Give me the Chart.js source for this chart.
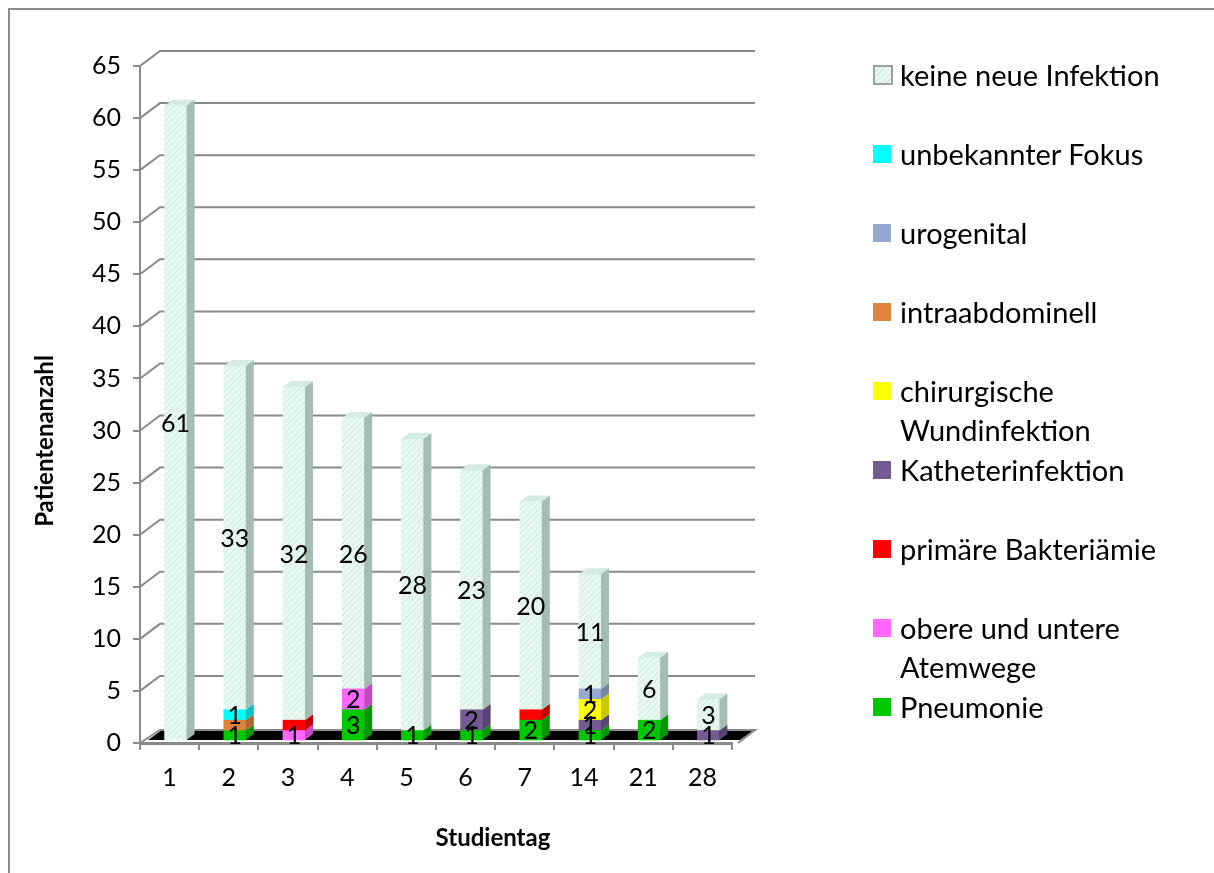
<!DOCTYPE html>
<html>
<head>
<meta charset="utf-8">
<script src="https://cdn.jsdelivr.net/npm/chart.js@4.4.1/dist/chart.umd.min.js"></script>
<style>
  html, body { margin: 0; padding: 0; background: #fff; }
  #wrap { position: relative; width: 1214px; height: 873px; overflow: hidden; font-family: Lato, "Open Sans", sans-serif; }
  #frame { position: absolute; left: 8px; top: 8px; width: 1300px; height: 900px; border: 2px solid #8c8c8c; box-sizing: border-box; }
  #chart { position: absolute; left: 0; top: 0; }
  .item { position: absolute; left: 873px; font-size: 29px; line-height: 39px; color: #000; white-space: pre; }
  .swatch { position: absolute; left: 0; top: 11px; width: 18px; height: 18px; box-sizing: border-box; }
  .label { position: absolute; left: 27px; top: 0; }
</style>
</head>
<body>
<div id="wrap">
  <div id="frame"></div>
  <canvas id="chart" width="1214" height="873"></canvas>
  <div id="legend"></div>
</div>
<script>
// Study days on the x axis
const studyDays = ['1', '2', '3', '4', '5', '6', '7', '14', '21', '28'];

// Patients per day, by focus of new infection (stacked bottom to top)
const pneumonie        = [0, 1, 0, 3, 1, 1, 2, 1, 2, 0];
const atemwege         = [0, 0, 1, 2, 0, 0, 0, 0, 0, 0];
const bakteriaemie     = [0, 0, 1, 0, 0, 0, 1, 0, 0, 0];
const katheter         = [0, 0, 0, 0, 0, 2, 0, 1, 0, 1];
const wundinfektion    = [0, 0, 0, 0, 0, 0, 0, 2, 0, 0];
const intraabdominell  = [0, 1, 0, 0, 0, 0, 0, 0, 0, 0];
const urogenital       = [0, 0, 0, 0, 0, 0, 0, 1, 0, 0];
const unbekannterFokus = [0, 1, 0, 0, 0, 0, 0, 0, 0, 0];
const keineInfektion   = [61, 33, 32, 26, 28, 23, 20, 11, 6, 3];

// Value axis
const yMin = 0, yMax = 65, yStep = 5;

const FONT = 'Lato, "Open Sans", sans-serif';
const canvas = document.getElementById('chart');
const ctx = canvas.getContext('2d');

// Fine diagonal hatching for the "no new infection" bars
function hatchPattern() {
  const c = document.createElement('canvas');
  c.width = 6; c.height = 6;
  const g = c.getContext('2d');
  g.fillStyle = '#e7f8f1';
  g.fillRect(0, 0, 6, 6);
  g.strokeStyle = '#cde9dc';
  g.lineWidth = 1;
  g.beginPath();
  g.moveTo(-1, 7); g.lineTo(7, -1);
  g.moveTo(5, 7); g.lineTo(7, 5);
  g.moveTo(-1, 1); g.lineTo(1, -1);
  g.stroke();
  return ctx.createPattern(c, 'repeat');
}

const series = [
  { label: 'Pneumonie',                   data: pneumonie,        front: '#00c800', side: '#009a00', top: '#33dd33', values: true },
  { label: 'obere und untere\nAtemwege',  data: atemwege,         front: '#ff66ff', side: '#c548c5', top: '#ff8cff', values: true },
  { label: 'primäre Bakteriämie',         data: bakteriaemie,     front: '#ff0000', side: '#c20000', top: '#ff3a3a', values: false },
  { label: 'Katheterinfektion',           data: katheter,         front: '#735a93', side: '#584573', top: '#8a73a8', values: true },
  { label: 'chirurgische\nWundinfektion', data: wundinfektion,    front: '#ffff00', side: '#c8c800', top: '#ffff66', values: true },
  { label: 'intraabdominell',             data: intraabdominell,  front: '#e0843c', side: '#b0662c', top: '#eaa06a', values: false },
  { label: 'urogenital',                  data: urogenital,       front: '#94a9d2', side: '#7386aa', top: '#b0c1e0', values: true },
  { label: 'unbekannter Fokus',           data: unbekannterFokus, front: '#00ffff', side: '#00c4c4', top: '#66ffff', values: true },
  { label: 'keine neue Infektion',        data: keineInfektion,   front: hatchPattern(), side: '#a3bdb1', top: '#d4ece2', values: true }
];

// Depth of the pseudo-3D look
const WALL_DX = 20, WALL_DY = 15;
const BAR_DX = 8, BAR_DY = 6;
const SHIFT_X = 6, SHIFT_Y = -2;
const AXIS_GREY = '#8a8a8a';

const walls = {
  id: 'walls',
  beforeDatasetsDraw(chart) {
    const { ctx, chartArea: a, scales: { y } } = chart;
    ctx.save();
    // back gridlines with their diagonal run-in from the front axis
    ctx.strokeStyle = AXIS_GREY;
    ctx.lineWidth = 2;
    y.ticks.forEach(t => {
      if (t.value === 0) return;
      const py = y.getPixelForValue(t.value);
      ctx.beginPath();
      ctx.moveTo(a.left, py);
      ctx.lineTo(a.left + WALL_DX, py - WALL_DY);
      ctx.lineTo(a.right + WALL_DX + 3, py - WALL_DY);
      ctx.stroke();
    });
    // floor
    const fy = y.getPixelForValue(0);
    ctx.fillStyle = '#000';
    ctx.beginPath();
    ctx.moveTo(a.left + 8, fy - 3);
    ctx.lineTo(a.right + 8, fy - 3);
    ctx.lineTo(a.right + WALL_DX + 2, fy - 13);
    ctx.lineTo(a.left + WALL_DX + 2, fy - 13);
    ctx.closePath();
    ctx.fill();
    ctx.beginPath();
    ctx.moveTo(a.left, fy);
    ctx.lineTo(a.left + WALL_DX, fy - 13);
    ctx.lineTo(a.right + WALL_DX + 3, fy - 13);
    ctx.lineTo(a.right + 6, fy);
    ctx.stroke();
    ctx.restore();

    ctx.save();
    ctx.translate(SHIFT_X, SHIFT_Y);
  },
  afterDatasetsDraw(chart) {
    const { ctx } = chart;
    const n = studyDays.length;
    const topIdx = new Array(n).fill(-1);
    series.forEach((s, i) => s.data.forEach((v, j) => { if (v > 0) topIdx[j] = i; }));

    const poly = (pts, fill) => {
      ctx.fillStyle = fill;
      ctx.beginPath();
      ctx.moveTo(pts[0][0], pts[0][1]);
      for (let k = 1; k < pts.length; k++) ctx.lineTo(pts[k][0], pts[k][1]);
      ctx.closePath();
      ctx.fill();
    };

    series.forEach((s, i) => {
      const meta = chart.getDatasetMeta(i);
      meta.data.forEach((bar, j) => {
        if (!(s.data[j] > 0)) return;
        const p = bar.getProps(['x', 'y', 'base', 'width'], true);
        const r = p.x + p.width / 2, l = p.x - p.width / 2;
        poly([[r, p.base], [r + BAR_DX, p.base - BAR_DY], [r + BAR_DX, p.y - BAR_DY], [r, p.y]], s.side);
        if (topIdx[j] === i) {
          poly([[l, p.y], [r, p.y], [r + BAR_DX, p.y - BAR_DY], [l + BAR_DX, p.y - BAR_DY]], s.top);
        }
      });
    });

    // value labels in the middle of each segment
    ctx.fillStyle = '#000';
    ctx.font = '25px ' + FONT;
    ctx.textAlign = 'center';
    ctx.textBaseline = 'middle';
    series.forEach((s, i) => {
      if (!s.values) return;
      const meta = chart.getDatasetMeta(i);
      meta.data.forEach((bar, j) => {
        const v = s.data[j];
        if (!(v > 0)) return;
        const p = bar.getProps(['x', 'y', 'base'], true);
        ctx.fillText(String(v), p.x, (p.y + p.base) / 2 + 1);
      });
    });
    ctx.restore();
  },
  afterDraw(chart) {
    const { ctx } = chart;
    ctx.save();
    ctx.fillStyle = '#000';
    ctx.font = 'bold 24px ' + FONT;
    ctx.textAlign = 'center';
    ctx.textBaseline = 'middle';
    ctx.fillText('Studientag', 493, 838);
    ctx.translate(45, 441);
    ctx.rotate(-Math.PI / 2);
    ctx.fillText('Patientenanzahl', 0, 0);
    ctx.restore();
  }
};

new Chart(canvas, {
  type: 'bar',
  data: {
    labels: studyDays,
    datasets: series.map(s => ({
      label: s.label,
      // empty categories get no bar at all
      data: s.data.map(v => (v > 0 ? v : null)),
      backgroundColor: s.front,
      borderWidth: 0,
      barThickness: 22
    }))
  },
  options: {
    responsive: false,
    animation: false,
    events: [],
    layout: { padding: { left: 0, top: 66, right: 482, bottom: 80 } },
    plugins: { legend: { display: false }, tooltip: { enabled: false } },
    scales: {
      x: {
        stacked: true,
        afterFit(scale) { scale.height = 50; },
        grid: { offset: true, drawOnChartArea: false, drawTicks: true, tickLength: 7, color: AXIS_GREY, lineWidth: 2 },
        border: { display: true, color: AXIS_GREY, width: 3 },
        ticks: { color: '#000', font: { family: FONT, size: 25 }, padding: 13, maxRotation: 0 }
      },
      y: {
        stacked: true,
        min: yMin, max: yMax,
        afterFit(scale) { scale.width = 140; },
        grid: { drawOnChartArea: false, drawTicks: true, tickLength: 7, color: AXIS_GREY, lineWidth: 2 },
        border: { display: true, color: AXIS_GREY, width: 2 },
        ticks: { stepSize: yStep, color: '#000', font: { family: FONT, size: 25 }, padding: 12 }
      }
    }
  },
  plugins: [walls]
});

// Legend, top entry first
const legend = document.getElementById('legend');
series.slice().reverse().forEach((s, k) => {
  const item = document.createElement('div');
  item.className = 'item';
  item.style.top = (76 + 79 * k - 21) + 'px';
  const sw = document.createElement('div');
  sw.className = 'swatch';
  if (typeof s.front === 'string') {
    sw.style.background = s.front;
  } else {
    sw.style.background = 'repeating-linear-gradient(135deg, #e7f8f1 0 3px, #cde9dc 3px 4px)';
    sw.style.border = '2px solid #a0a0a0';
    sw.style.width = '20px'; sw.style.height = '20px'; sw.style.top = '10px';
  }
  const tx = document.createElement('div');
  tx.className = 'label';
  tx.textContent = s.label;
  item.appendChild(sw);
  item.appendChild(tx);
  legend.appendChild(item);
});
</script>
</body>
</html>
